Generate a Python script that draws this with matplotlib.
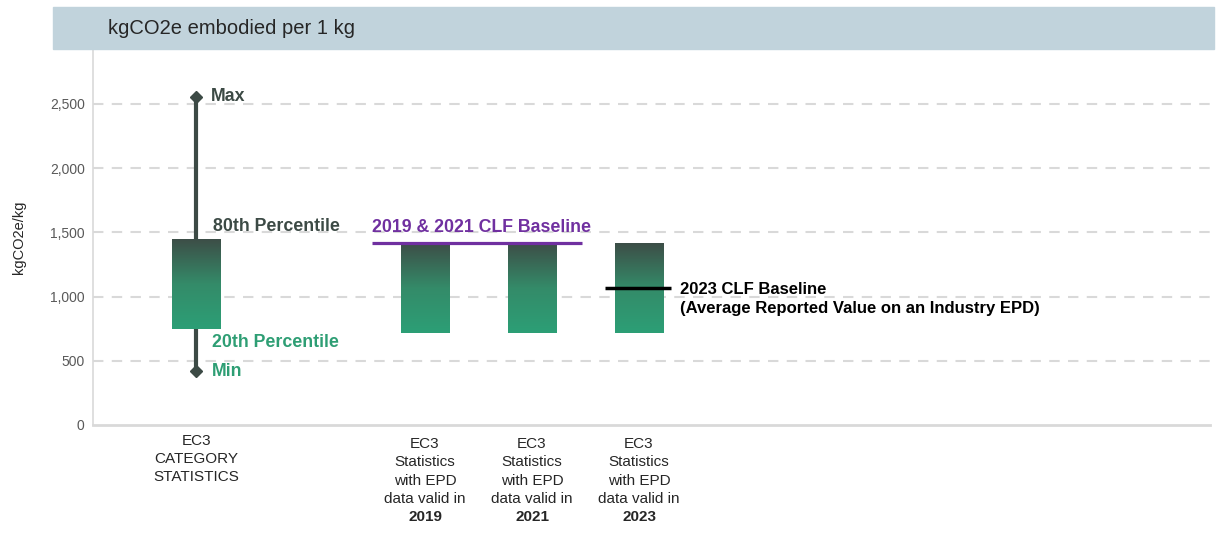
import matplotlib.pyplot as plt
from matplotlib.colors import LinearSegmentedColormap
from matplotlib.patches import Rectangle
import numpy as np

plt.rcParams['font.family'] = ['Liberation Sans', 'DejaVu Sans']

# data
category_labels = [
    ["EC3", "CATEGORY", "STATISTICS"],
    ["EC3", "Statistics", "with EPD", "data valid in"],
    ["EC3", "Statistics", "with EPD", "data valid in"],
    ["EC3", "Statistics", "with EPD", "data valid in"],
]
years = ["", "2019", "2021", "2023"]
p20 = [745, 720, 720, 720]
p80 = [1440, 1420, 1420, 1420]
cat_min = 420
cat_max = 2555
baseline_2019_2021 = 1420
baseline_2023 = 1065

dark = '#3c4a45'
green = '#2e9e74'
purple = '#7030a0'
cmap = LinearSegmentedColormap.from_list('g', ['#2c9f76', '#348b69', '#3d4e47'])

fig = plt.figure(figsize=(12.3, 5.34), dpi=100)
ax = fig.add_axes([93 / 1230, 109 / 534, 1117 / 1230, 376 / 534])

# header band
fig.patches.append(Rectangle((53 / 1230, 485 / 534), 1161 / 1230, 42 / 534,
                             transform=fig.transFigure, color='#c1d3dc', zorder=0))
fig.text(108 / 1230, 506 / 534, "kgCO2e embodied per 1 kg", fontsize=14.5,
         color='#262626', va='center', ha='left')

# positions of the columns
xs = np.array([0, 2.136, 3.136, 4.136])
width = 0.45

grad = np.linspace(0, 1, 256).reshape(-1, 1)
for x, lo, hi in zip(xs, p20, p80):
    ax.imshow(grad, extent=[x - width / 2, x + width / 2, lo, hi], origin='lower',
              aspect='auto', cmap=cmap, zorder=3)

# whisker for the category statistics
ax.plot([xs[0], xs[0]], [cat_min, cat_max], color=dark, lw=3, zorder=2)
ax.plot([xs[0], xs[0]], [cat_min, cat_max], 'D', color=dark, ms=6, zorder=4)

bold = dict(fontsize=12.8, fontweight='bold')
ax.text(xs[0] + 0.13, cat_max, "Max", color=dark, va='center', **bold)
ax.text(xs[0] + 0.155, p80[0] + 105, "80th Percentile", color=dark, va='center', **bold)
ax.text(xs[0] + 0.145, p20[0] - 105, "20th Percentile", color=green, va='center', **bold)
ax.text(xs[0] + 0.145, cat_min, "Min", color=green, va='center', **bold)

# baselines
x0, x1 = xs[1] - 0.5, xs[2] + 0.465
ax.plot([x0, x1], [baseline_2019_2021] * 2, color=purple, lw=2.3, zorder=4,
        solid_capstyle='butt')
ax.text(x0, baseline_2019_2021 + 120, "2019 & 2021 CLF Baseline", color=purple,
        va='center', ha='left', **bold)

ax.plot([xs[3] - 0.32, xs[3] + 0.3], [baseline_2023] * 2, color='black', lw=2.5,
        zorder=4, solid_capstyle='butt')
ax.text(xs[3] + 0.38, baseline_2023 - 85,
        "2023 CLF Baseline\n(Average Reported Value on an Industry EPD)",
        color='black', va='center', ha='left', fontsize=12, fontweight='bold',
        linespacing=1.3)

# category labels under the axis
for x, lines, yr in zip(xs, category_labels, years):
    start = 15.7 if yr == "" else 19
    all_lines = lines + ([yr] if yr else [])
    for i, line in enumerate(all_lines):
        ax.annotate(line, xy=(x, 0), xycoords='data',
                    xytext=(0, -(start + 18.3 * i) * 0.72), textcoords='offset points',
                    ha='center', va='center', fontsize=11, color='#262626',
                    fontweight='bold' if line == yr else 'normal',
                    annotation_clip=False)

ax.set_xlim(-0.967, -0.967 + 1117 / 107)
ax.set_ylim(0, 2928)
ax.set_yticks([0, 500, 1000, 1500, 2000, 2500])
ax.set_yticklabels([f"{v:,}" for v in [0, 500, 1000, 1500, 2000, 2500]])
ax.set_xticks([])
ax.tick_params(axis='y', length=0, labelsize=10, labelcolor='#595959', pad=6)
ax.set_ylabel("kgCO2e/kg", fontsize=10.5, color='#262626', labelpad=17)

for v in [500, 1000, 1500, 2000, 2500]:
    ax.axhline(v, color='#d9d9d9', lw=1.5, ls=(0, (5, 4)), zorder=1)

for s in ['top', 'right']:
    ax.spines[s].set_visible(False)
ax.spines['left'].set_color('#d9d9d9')
ax.spines['left'].set_linewidth(1.2)
ax.spines['bottom'].set_color('#d9d9d9')
ax.spines['bottom'].set_linewidth(2)

fig.savefig('out.png', dpi=100)
